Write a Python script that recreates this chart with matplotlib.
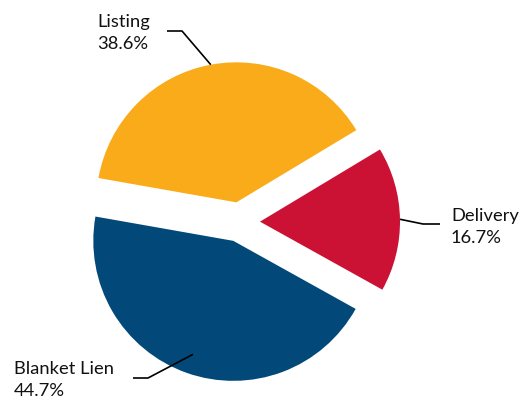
import numpy as np
import matplotlib
matplotlib.use('Agg')
import matplotlib.pyplot as plt

plt.rcParams['font.family'] = ['Lato', 'DejaVu Sans']

# Loan share by lien type
labels = ['Listing', 'Delivery', 'Blanket Lien']
shares = [38.6, 16.7, 44.7]
colors = ['#F9AB1A', '#CC1234', '#02497A']

W, H = 522, 402
CX, CY, R = 240, 223, 140  # pie centre and radius in pixels


def px(x, y):
    # pixel position -> data coords (pie radius 1 at origin)
    return (x - CX) / R, (CY - y) / R


fig = plt.figure(figsize=(W / 100, H / 100), dpi=100)
ax = fig.add_axes([0, 0, 1, 1])

explode = [20 / R] * 3
wedges, _ = ax.pie(shares, colors=colors, explode=explode, startangle=170,
                   counterclock=False, radius=1, center=(0, 0),
                   wedgeprops=dict(linewidth=0))

# pie() resets the limits, so set them afterwards
ax.set_xlim(-CX / R, (W - CX) / R)
ax.set_ylim(-(H - CY) / R, CY / R)
ax.set_aspect('equal')
ax.axis('off')

# leader lines: (radius fraction on wedge, elbow px, end px, text px, ha)
leaders = [
    (1.0, (182, 32), (167, 32), (97, 14), 'left'),
    (1.0, (423, 225), (440, 225), (451, 208), 'left'),
    (0.86, (148, 379), (133, 379), (14, 361), 'left'),
]

for w, lab, val, (rf, elbow, end, tpos, ha) in zip(wedges, labels, shares, leaders):
    ang = np.deg2rad((w.theta1 + w.theta2) / 2)
    cx, cy = w.center
    sx, sy = cx + rf * np.cos(ang), cy + rf * np.sin(ang)
    ex, ey = px(*elbow)
    fx, fy = px(*end)
    ax.plot([sx, ex, fx], [sy, ey, fy], color='black', lw=1.2,
            solid_capstyle='butt')
    tx, ty = px(*tpos)
    ax.text(tx, ty, f'{lab}\n{val}%', ha=ha, va='top', fontsize=13.2,
            linespacing=1.5, color='#111111')

fig.savefig('out.png', dpi=100)
